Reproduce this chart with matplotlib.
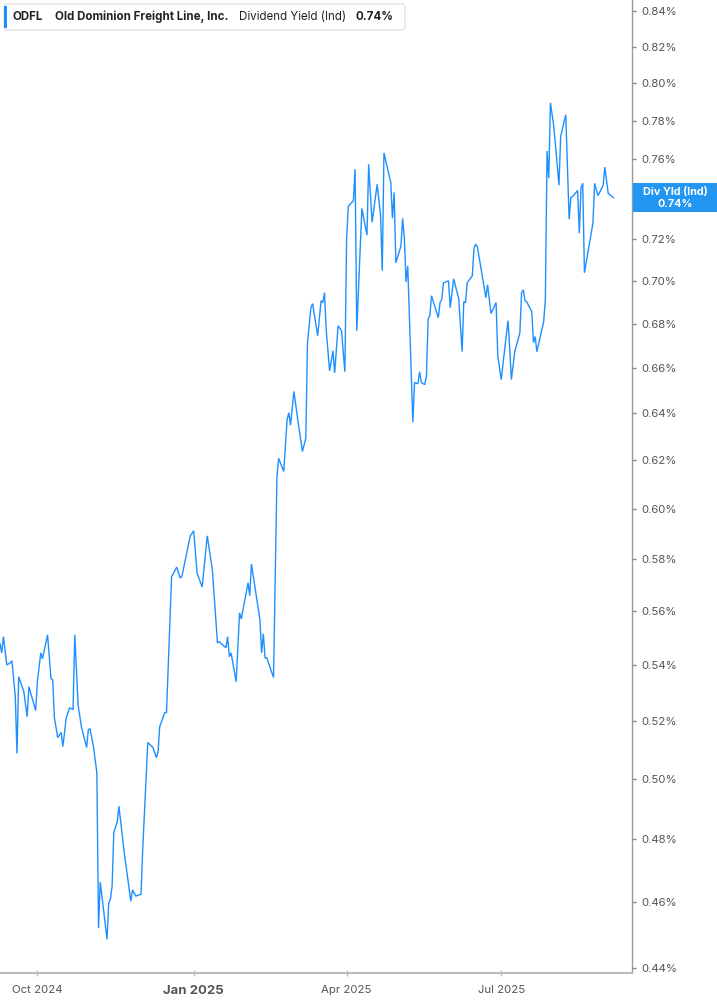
import matplotlib
matplotlib.use("Agg")
import matplotlib.pyplot as plt
import matplotlib.ticker as mticker
from matplotlib.patches import Rectangle, FancyBboxPatch
from matplotlib.transforms import blended_transform_factory
import pandas as pd

# --- Data ---
TICKER = "ODFL"
COMPANY = "Old Dominion Freight Line, Inc."
METRIC = "Dividend Yield (Ind)"
LAST_LABEL = "0.74%"

# one line per month, same layout in both lists
dates = [
    "2024-09-09", "2024-09-10", "2024-09-11", "2024-09-13", "2024-09-15", "2024-09-16", "2024-09-18", "2024-09-19", "2024-09-20", "2024-09-23", "2024-09-25", "2024-09-26", "2024-09-30",
    "2024-10-01", "2024-10-03", "2024-10-04", "2024-10-07", "2024-10-09", "2024-10-10", "2024-10-11", "2024-10-13", "2024-10-15", "2024-10-16", "2024-10-18", "2024-10-20", "2024-10-22", "2024-10-23", "2024-10-25", "2024-10-27", "2024-10-30", "2024-10-31",
    "2024-11-01", "2024-11-03", "2024-11-05", "2024-11-06", "2024-11-07", "2024-11-11", "2024-11-12", "2024-11-13", "2024-11-14", "2024-11-15", "2024-11-17", "2024-11-18", "2024-11-21", "2024-11-23", "2024-11-25", "2024-11-26", "2024-11-28",
    "2024-12-01", "2024-12-02", "2024-12-05", "2024-12-08", "2024-12-10", "2024-12-11", "2024-12-12", "2024-12-15", "2024-12-16", "2024-12-19", "2024-12-22", "2024-12-24", "2024-12-25", "2024-12-30",
    "2025-01-01", "2025-01-03", "2025-01-06", "2025-01-09", "2025-01-12", "2025-01-15", "2025-01-16", "2025-01-20", "2025-01-21", "2025-01-22", "2025-01-23", "2025-01-26", "2025-01-28", "2025-01-29",
    "2025-02-02", "2025-02-03", "2025-02-04", "2025-02-09", "2025-02-10", "2025-02-11", "2025-02-12", "2025-02-13", "2025-02-17", "2025-02-19", "2025-02-20", "2025-02-23", "2025-02-25", "2025-02-26", "2025-02-27",
    "2025-03-01", "2025-03-03", "2025-03-06", "2025-03-08", "2025-03-09", "2025-03-11", "2025-03-12", "2025-03-15", "2025-03-17", "2025-03-18", "2025-03-19", "2025-03-20", "2025-03-22", "2025-03-24", "2025-03-25", "2025-03-27", "2025-03-29", "2025-03-31",
    "2025-04-01", "2025-04-02", "2025-04-05", "2025-04-06", "2025-04-07", "2025-04-10", "2025-04-13", "2025-04-14", "2025-04-16", "2025-04-19", "2025-04-21", "2025-04-22", "2025-04-23", "2025-04-27", "2025-04-28", "2025-04-29", "2025-04-30",
    "2025-05-03", "2025-05-04", "2025-05-05", "2025-05-06", "2025-05-07", "2025-05-10", "2025-05-11", "2025-05-13", "2025-05-14", "2025-05-15", "2025-05-17", "2025-05-18", "2025-05-19", "2025-05-20", "2025-05-21", "2025-05-25", "2025-05-26", "2025-05-27", "2025-05-28", "2025-05-31",
    "2025-06-01", "2025-06-03", "2025-06-06", "2025-06-08", "2025-06-09", "2025-06-10", "2025-06-11", "2025-06-14", "2025-06-15", "2025-06-16", "2025-06-17", "2025-06-22", "2025-06-23", "2025-06-25", "2025-06-28", "2025-06-29",
    "2025-07-01", "2025-07-05", "2025-07-06", "2025-07-07", "2025-07-09", "2025-07-12", "2025-07-13", "2025-07-14", "2025-07-15", "2025-07-16", "2025-07-19", "2025-07-20", "2025-07-21", "2025-07-22", "2025-07-26", "2025-07-27", "2025-07-28", "2025-07-29", "2025-07-30",
    "2025-08-01", "2025-08-04", "2025-08-05", "2025-08-08", "2025-08-10", "2025-08-11", "2025-08-12", "2025-08-15", "2025-08-16", "2025-08-17", "2025-08-18", "2025-08-19", "2025-08-24", "2025-08-25", "2025-08-27", "2025-08-30", "2025-08-31",
    "2025-09-02", "2025-09-05",
]

# dividend yield, in percent
yields = [
    0.5478, 0.5444, 0.5504, 0.5400, 0.5407, 0.5415, 0.5286, 0.5086, 0.5357, 0.5304, 0.5214, 0.5321, 0.5236,
    0.5339, 0.5444, 0.5422, 0.5511, 0.5350, 0.5346, 0.5211, 0.5141, 0.5159, 0.5110, 0.5211, 0.5246, 0.5239, 0.5511, 0.5254, 0.5176, 0.5107, 0.5169,
    0.5172, 0.5110, 0.5021, 0.4520, 0.4663, 0.4486, 0.4597, 0.4610, 0.4651, 0.4823, 0.4856, 0.4908, 0.4762, 0.4683, 0.4603, 0.4638, 0.4619,
    0.4625, 0.4768, 0.5124, 0.5107, 0.5072, 0.5090, 0.5179, 0.5229, 0.5229, 0.5731, 0.5769, 0.5727, 0.5731, 0.5892,
    0.5912, 0.5746, 0.5692, 0.5892, 0.5758, 0.5481, 0.5485, 0.5463, 0.5504, 0.5430, 0.5444, 0.5339, 0.5593, 0.5570,
    0.5708, 0.5658, 0.5781, 0.5567, 0.5444, 0.5515, 0.5426, 0.5426, 0.5354, 0.6129, 0.6209, 0.6154, 0.6374, 0.6403, 0.6349,
    0.6496, 0.6387, 0.6238, 0.6294, 0.6714, 0.6874, 0.6893, 0.6745, 0.6907, 0.6898, 0.6944, 0.6773, 0.6587, 0.6677, 0.6578, 0.6791, 0.6768, 0.6583,
    0.7195, 0.7361, 0.7390, 0.7549, 0.6768, 0.7351, 0.7220, 0.7574, 0.7283, 0.7472, 0.7317, 0.7048, 0.7632, 0.7482, 0.7302, 0.7431, 0.7086,
    0.7167, 0.7302, 0.7205, 0.6995, 0.7071, 0.6362, 0.6535, 0.6530, 0.6583, 0.6535, 0.6526, 0.6561, 0.6823, 0.6837, 0.6930, 0.6828, 0.6898, 0.6912, 0.6991, 0.7000,
    0.6874, 0.7010, 0.6916, 0.6673, 0.6902, 0.6898, 0.6991, 0.7024, 0.7157, 0.7176, 0.7162, 0.6921, 0.6981, 0.6847, 0.6898, 0.6655,
    0.6548, 0.6814, 0.6691, 0.6548, 0.6673, 0.6759, 0.6944, 0.6958, 0.6907, 0.6902, 0.6856, 0.6714, 0.6741, 0.6673, 0.6809, 0.6912, 0.7642, 0.7503, 0.7895,
    0.7768, 0.7467, 0.7716, 0.7832, 0.7298, 0.7405, 0.7410, 0.7441, 0.7229, 0.7456, 0.7477, 0.7038, 0.7278, 0.7477, 0.7415, 0.7467, 0.7559,
    0.7426, 0.7405,
]

y_ticks = [0.44, 0.46, 0.48, 0.50, 0.52, 0.54, 0.56, 0.58, 0.60, 0.62, 0.64, 0.66,
           0.68, 0.70, 0.72, 0.74, 0.76, 0.78, 0.80, 0.82, 0.84]
x_ticks = ["2024-10-01", "2025-01-01", "2025-04-01", "2025-07-01"]
x_tick_labels = ["Oct 2024", "Jan 2025", "Apr 2025", "Jul 2025"]

# --- Style ---
LINE_BLUE = "#1e8fff"
TAG_BLUE = "#2196f3"
GREY_TXT = "#555555"
W, H = 717, 1005

plt.rcParams["font.family"] = ["Inter", "DejaVu Sans"]

dt = pd.to_datetime(dates)
last = yields[-1]

fig = plt.figure(figsize=(W / 100, H / 100), dpi=100)
ax = fig.add_axes([0, (H - 973) / H, 632 / W, 973 / H])

ax.plot(dt, yields, color=LINE_BLUE, lw=1.0, solid_joinstyle="miter")

ax.set_yscale("log")
ax.set_ylim(0.4385, 0.8463)
ax.set_xlim(pd.Timestamp("2024-09-09"), pd.Timestamp("2025-09-16"))


def pct_label(v, pos):
    # the tick under the last-value tag is covered by it
    if abs(v - round(last, 2)) < 1e-6:
        return ""
    return f"{v:.2f}%"


ax.yaxis.tick_right()
ax.yaxis.set_major_locator(mticker.FixedLocator(y_ticks))
ax.yaxis.set_minor_locator(mticker.NullLocator())
ax.yaxis.set_major_formatter(mticker.FuncFormatter(pct_label))
ax.tick_params(axis="y", which="major", direction="out", length=3, width=1,
               color="#888888", labelcolor=GREY_TXT, labelsize=8.2, pad=4)

ax.set_xticks(pd.to_datetime(x_ticks))
ax.set_xticklabels(x_tick_labels)
ax.tick_params(axis="x", direction="inout", length=5, width=1, color="#bbbbbb",
               labelcolor=GREY_TXT, labelsize=8.2, pad=6)
for lbl in ax.get_xticklabels():
    if lbl.get_text().startswith("Jan"):
        lbl.set_fontweight("bold")
        lbl.set_fontsize(9.5)

for side in ["top", "left"]:
    ax.spines[side].set_visible(False)
ax.spines["right"].set_color("#999999")
ax.spines["right"].set_linewidth(1.0)
ax.spines["bottom"].set_color("#bbbbbb")
ax.spines["bottom"].set_linewidth(1.5)

# tag with the latest value on the right axis
tr = blended_transform_factory(fig.transFigure, ax.transData)
half = 1.0098
ax.add_patch(Rectangle((633 / W, last / half), 1 - 633 / W, last * half - last / half,
                       transform=tr, facecolor=TAG_BLUE, edgecolor="none",
                       clip_on=False, zorder=5))
fig.text(675 / W, last * 1.0035, "Div Yld (Ind)", transform=tr, ha="center", va="center",
         color="white", fontsize=7.8, fontweight="bold", zorder=6)
fig.text(675 / W, last / 1.0042, LAST_LABEL, transform=tr, ha="center", va="center",
         color="white", fontsize=7.8, fontweight="bold", zorder=6)

# header legend box
fig.patches.append(FancyBboxPatch((4 / W, 1 - 30 / H), 401 / W, 26 / H,
                                  boxstyle="round,pad=0,rounding_size=0.004",
                                  transform=fig.transFigure, facecolor="white",
                                  edgecolor="#e3e3e3", lw=1.0, zorder=10))
fig.patches.append(Rectangle((4 / W, 1 - 28 / H), 3 / W, 22 / H, transform=fig.transFigure,
                             facecolor=LINE_BLUE, edgecolor="none", zorder=11))
header_y = 1 - 17 / H
fig.text(13 / W, header_y, TICKER, fontsize=8.3, fontweight="bold", color="#222222",
         va="center", zorder=12)
fig.text(55 / W, header_y, COMPANY, fontsize=8.3, fontweight="bold", color="#222222",
         va="center", zorder=12)
fig.text(239 / W, header_y, METRIC, fontsize=8.3, color="#222222", va="center", zorder=12)
fig.text(356 / W, header_y, LAST_LABEL, fontsize=8.3, fontweight="bold", color="#222222",
         va="center", zorder=12)

fig.savefig("out.png", dpi=100)
